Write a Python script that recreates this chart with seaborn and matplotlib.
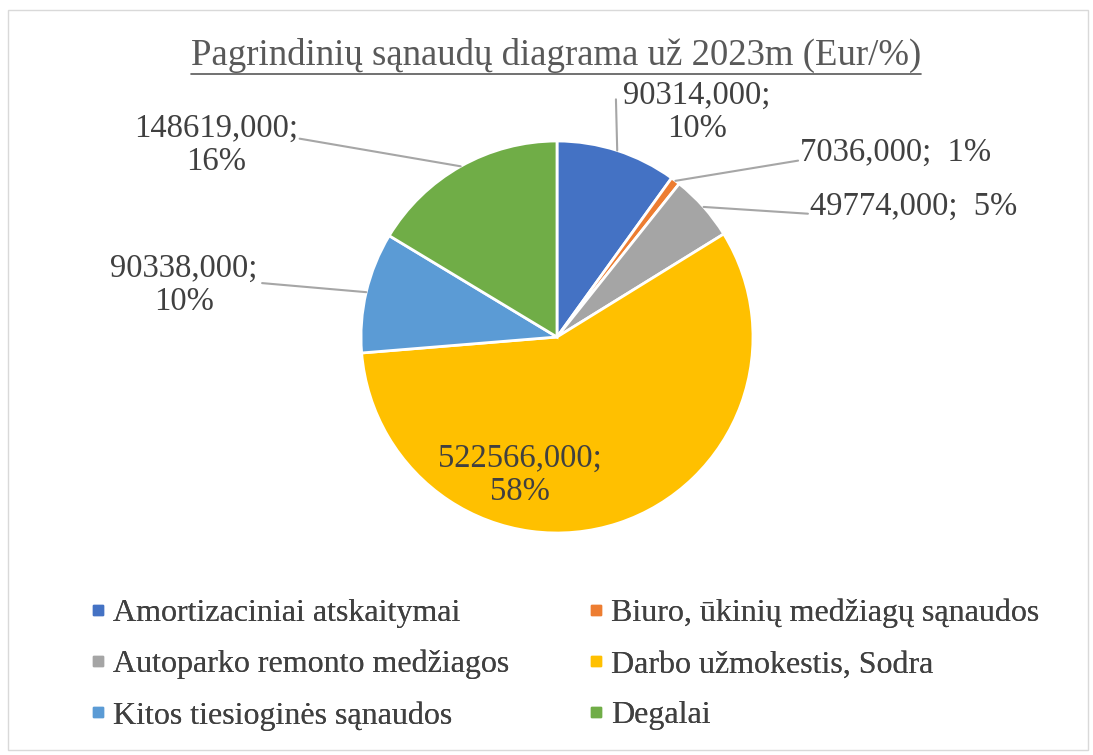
import matplotlib
matplotlib.use("Agg")
import matplotlib.pyplot as plt
from matplotlib.lines import Line2D
from matplotlib.patches import Rectangle
import numpy as np
import seaborn as sns

categories = ["Amortizaciniai atskaitymai", "Biuro, ūkinių medžiagų sąnaudos",
              "Autoparko remonto medžiagos", "Darbo užmokestis, Sodra",
              "Kitos tiesioginės sąnaudos", "Degalai"]
values = [90314.0, 7036.0, 49774.0, 522566.0, 90338.0, 148619.0]
colors = ["#4472C4", "#ED7D31", "#A5A5A5", "#FFC000", "#5B9BD5", "#70AD47"]
label_sep = ["\n", ";  ", ";  ", "\n", "\n", "\n"]
title = "Pagrindinių sąnaudų diagrama už 2023m (Eur/%)"

sns.set_theme(style="white")
plt.rcParams["font.family"] = ["Liberation Serif", "DejaVu Serif"]

W, H = 1093, 755
fig = plt.figure(figsize=(W / 100, H / 100), dpi=100)
ax = fig.add_axes([0, 0, 1, 1])

def px(x, y):
    return x, H - y

cx, cy = px(557, 337)
R = 196
wedges, _ = ax.pie(values, colors=colors, startangle=90, counterclock=False,
                   center=(cx, cy), radius=R,
                   wedgeprops=dict(edgecolor="white", linewidth=2))
ax.set_xlim(0, W)
ax.set_ylim(0, H)
ax.set_aspect("equal")
ax.set_axis_off()

total = sum(values)
# text position (px), alignment, relpos of leader line on the text box
label_pos = [((697, 112), "center", (-0.05, 0.7)),
             ((800, 153), "left", (-0.01, 0.25)),
             ((810, 207), "left", (-0.01, 0.28)),
             ((520, 475), "center", None),
             ((184, 285), "center", (1.03, 0.53)),
             ((216, 145), "center", (1.01, 0.6))]
txt_color = "#404040"
fs_lab = 23.5
for w, v, sep, (pos, ha, rel) in zip(wedges, values, label_sep, label_pos):
    pct = round(100 * v / total)
    s = f"{v:.3f}".replace(".", ",")
    if sep == "\n":
        lab = f"{s};\n{pct}%"
    else:
        lab = f"{s}{sep}{pct}%"
    ang = np.deg2rad((w.theta1 + w.theta2) / 2)
    ex, ey = cx + R * np.cos(ang), cy + R * np.sin(ang)
    if rel is None:
        ax.text(*px(*pos), lab, ha="center", va="center", fontsize=fs_lab,
                color=txt_color, linespacing=1.1)
    else:
        ax.annotate(lab, xy=(ex, ey), xytext=px(*pos), ha=ha, va="center",
                    fontsize=fs_lab, color=txt_color, linespacing=1.1,
                    arrowprops=dict(arrowstyle="-", color="#A6A6A6", lw=1.5,
                                    relpos=rel, patchA=None,
                                    shrinkA=0, shrinkB=0))

t = fig.text(556 / W, 1 - 55 / H, title, ha="center", va="center",
             fontsize=26.5, color="#595959")
fig.canvas.draw()
bb = t.get_window_extent()
fig.add_artist(Line2D([bb.x0 / W, bb.x1 / W], [(bb.y0 - 1) / H] * 2,
                      transform=fig.transFigure, color="#595959", lw=1.2))

handles = [Line2D([], [], marker="s", linestyle="none", markersize=7,
                  markerfacecolor=c, markeredgecolor=c) for c in colors]
for col, x0 in enumerate([76, 574]):
    idx = [col, col + 2, col + 4]
    leg = fig.legend([handles[i] for i in idx], [categories[i] for i in idx],
                     loc="upper left", bbox_to_anchor=(x0 / W, 1 - 586 / H),
                     frameon=False, fontsize=23, handlelength=0.6,
                     handletextpad=0.15, labelspacing=0.68, labelcolor=txt_color,
                     borderaxespad=0)
    fig.add_artist(leg)

fig.add_artist(Rectangle((8 / W, 5 / H), 1080 / W, 740 / H,
                         transform=fig.transFigure, fill=False,
                         edgecolor="#D9D9D9", lw=1))

fig.savefig("out.png", dpi=100, facecolor="white")
